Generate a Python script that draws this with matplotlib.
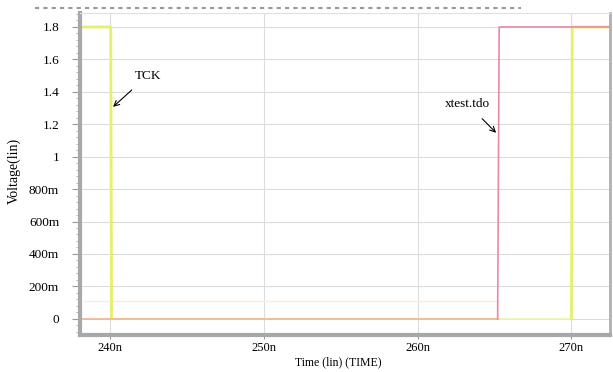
import matplotlib.pyplot as plt
from matplotlib.ticker import FixedLocator, MultipleLocator

plt.rcParams['font.family'] = ['Liberation Serif', 'DejaVu Serif']

# waveform data (time in ns, voltage in V)
tck_t = [238.0, 240.05, 240.1, 270.0, 270.05, 272.5]
tck_v = [1.8, 1.8, 0.0, 0.0, 1.8, 1.8]
tdo_t = [238.0, 265.2, 265.3, 272.5]
tdo_v = [0.0, 0.0, 1.8, 1.8]
ghost_t = [238.3, 265.2]
ghost_v = [0.107, 0.107]

xticks = [240, 250, 260, 270]
xlabels = ['240n', '250n', '260n', '270n']
yticks = [0, 0.2, 0.4, 0.6, 0.8, 1.0, 1.2, 1.4, 1.6, 1.8]
ylabels = ['0', '200m', '400m', '600m', '800m', '1', '1.2', '1.4', '1.6', '1.8']

fig = plt.figure(figsize=(6.13, 3.72), dpi=100)
ax = fig.add_axes([0.1305, 0.0995, 0.8645, 0.8655])

ax.plot(ghost_t, ghost_v, color='#fbeadf', lw=1.0)
ax.plot(tck_t[:3], tck_v[:3], color='#e6f06a', lw=2.0)
ax.plot(tck_t[2:4], tck_v[2:4], color='#eef5a8', lw=1.2)
ax.plot(tck_t[3:], tck_v[3:], color='#e6f06a', lw=2.0)
ax.plot(tdo_t[:2], tdo_v[:2], color='#f2b48e', lw=1.2)
ax.plot(tdo_t[1:], tdo_v[1:], color='#e98aa2', lw=1.2, zorder=3)

ax.set_xlim(238.05, 272.5)
ax.set_ylim(-0.1, 1.886)
ax.xaxis.set_major_locator(FixedLocator(xticks))
ax.set_xticklabels(xlabels)
ax.yaxis.set_major_locator(FixedLocator(yticks))
ax.set_yticklabels(ylabels)
ax.yaxis.set_minor_locator(MultipleLocator(0.04))
ax.tick_params(axis='both', labelsize=9.5, color='#999999', direction='out')
ax.tick_params(axis='y', which='major', length=6, pad=9)
ax.tick_params(axis='y', which='minor', length=3, color='#aaaaaa')
ax.tick_params(axis='x', length=3, pad=2, labelsize=9)

ax.grid(True, color='#dcdcdc', lw=0.8)
for s in ['left', 'bottom']:
    ax.spines[s].set_color('#a8a8a8')
    ax.spines[s].set_linewidth(3)
ax.spines['right'].set_color('#b0b0b0')
ax.spines['right'].set_linewidth(2)
ax.spines['top'].set_color('#e0e0e0')

ax.set_xlabel('Time (lin) (TIME)', fontsize=8.5)
ax.xaxis.set_label_coords(0.487, -0.066)
ax.set_ylabel('Voltage(lin)', fontsize=10)
ax.yaxis.set_label_coords(-0.112, 0.51)

ax.annotate('TCK', xy=(240.2, 1.307), xytext=(242.45, 1.50), fontsize=9.5,
            ha='center', va='center',
            arrowprops=dict(arrowstyle='->', color='black', lw=0.8, shrinkA=6, shrinkB=0))
ax.annotate('xtest.tdo', xy=(265.1, 1.147), xytext=(263.25, 1.325), fontsize=9.5,
            ha='center', va='center',
            arrowprops=dict(arrowstyle='->', color='black', lw=0.8, shrinkA=6, shrinkB=0))

# dashed frame line above the plot
fig.add_artist(plt.Line2D([0.057, 0.85], [0.978, 0.978], color='#999999', lw=1.5,
                          ls=(0, (2, 2))))

fig.savefig('out.png', dpi=100)
